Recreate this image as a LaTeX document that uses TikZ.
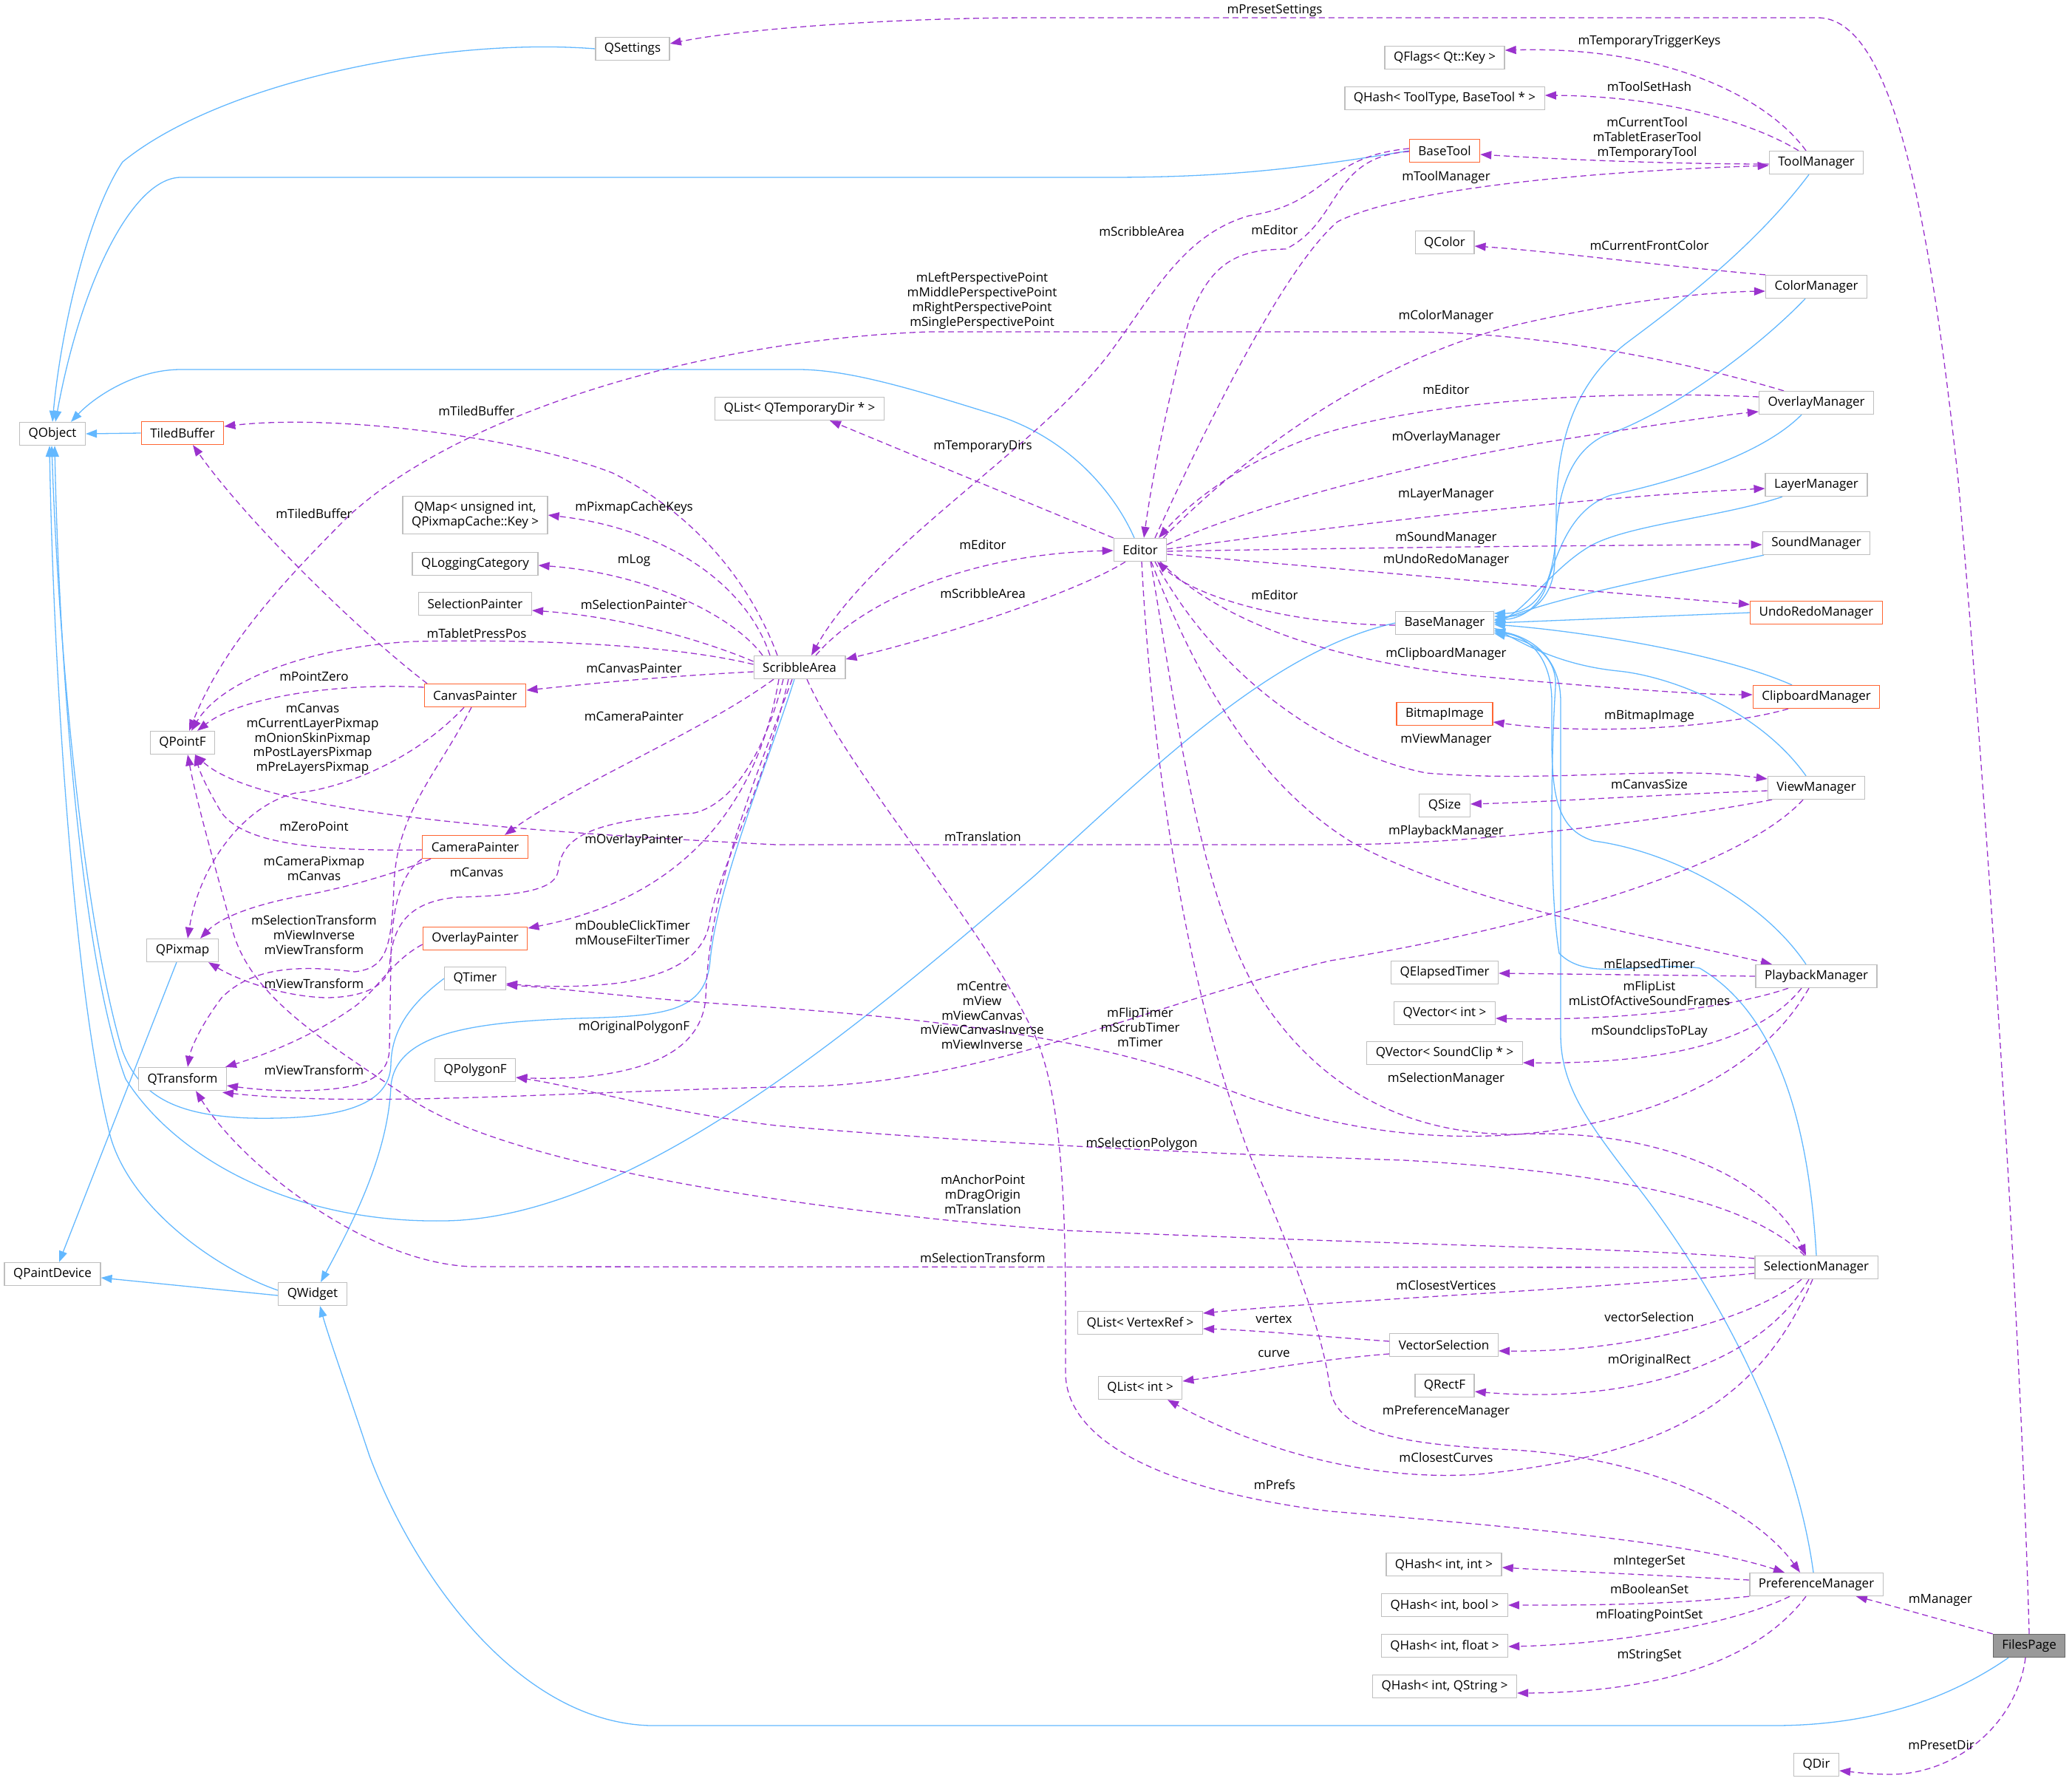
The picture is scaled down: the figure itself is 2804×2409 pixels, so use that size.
\documentclass[tikz,border=0pt]{standalone}
\usepackage{fontspec}
\setmainfont{Open Sans}
\usetikzlibrary{arrows.meta}
\definecolor{edgeblue}{HTML}{63B8FF}
\definecolor{deppurple}{HTML}{9A32CD}
\definecolor{nodegray}{HTML}{BFBFBF}
\definecolor{trunc}{HTML}{FF6633}
\definecolor{fpfill}{HTML}{999999}
\definecolor{fpdraw}{HTML}{666666}
\pgfdeclarelayer{bg}
\pgfsetlayers{bg,main}
\begin{document}
\begin{tikzpicture}[x=1pt,y=-1pt,
 cls/.style={draw=nodegray, fill=white, line width=1.3pt, minimum height=31pt, inner xsep=12pt, inner ysep=3pt, font=\fontsize{17}{20}\selectfont, align=center},
 trn/.style={cls, draw=trunc},
 cur/.style={cls, fill=fpfill, draw=fpdraw},
 inh/.style={draw=edgeblue, line width=1.3pt, -{Triangle[length=15pt,width=11pt]}},
 dep/.style={draw=deppurple, line width=1.3pt, dash pattern=on 8pt off 5pt, -{Triangle[length=15pt,width=11pt]}},
 lbl/.style={font=\fontsize{17}{19.7}\selectfont, align=center, inner sep=0pt},
]
\useasboundingbox (0,0) rectangle (2804,2409);

% ---------- nodes ----------
\node[cls] (qsettings) at (856,66) {QSettings};
\node[cls] (qobject) at (71,587) {QObject};
\node[trn] (tiled) at (247,586) {TiledBuffer};
\node[cls, minimum height=51pt] (qmap) at (643,697) {QMap< unsigned int,\\QPixmapCache::Key >};
\node[cls] (qlog) at (643,763) {QLoggingCategory};
\node[cls] (selpainter) at (643,817) {SelectionPainter};
\node[trn] (canvaspainter) at (643,941) {CanvasPainter};
\node[cls] (qpointf) at (247,1005) {QPointF};
\node[trn] (camerapainter) at (643,1146) {CameraPainter};
\node[cls] (qpixmap) at (247,1286) {QPixmap};
\node[trn] (overlaypainter) at (643,1270) {OverlayPainter};
\node[cls] (qtimer) at (643,1324) {QTimer};
\node[cls] (qtransform) at (247,1460) {QTransform};
\node[cls] (qpolygonf) at (643,1448) {QPolygonF};
\node[cls] (qpaintdevice) at (71,1724) {QPaintDevice};
\node[cls] (qwidget) at (423,1751) {QWidget};
\node[cls] (qtmpdirs) at (1082,553) {QList< QTemporaryDir * >};
\node[cls] (scribble) at (1082,903) {ScribbleArea};
\node[cls] (editor) at (1543,744) {Editor};
\node[cls] (qflags) at (1955,78) {QFlags< Qt::Key >};
\node[cls] (qhashtool) at (1955,133) {QHash< ToolType, BaseTool * >};
\node[trn] (basetool) at (1955,204) {BaseTool};
\node[cls] (qcolor) at (1955,328) {QColor};
\node[cls] (basemanager) at (1955,843) {BaseManager};
\node[trn] (bitmap) at (1955,966) {BitmapImage};
\node[cls] (qsize) at (1955,1090) {QSize};
\node[cls] (qelapsed) at (1955,1316) {QElapsedTimer};
\node[cls] (qvecint) at (1955,1371) {QVector< int >};
\node[cls] (qvecsnd) at (1955,1425) {QVector< SoundClip * >};
\node[cls] (qlistvr) at (1543,1790) {QList< VertexRef >};
\node[cls] (qlistint) at (1543,1878) {QList< int >};
\node[cls] (vecsel) at (1954,1820) {VectorSelection};
\node[cls] (qrectf) at (1955,1875) {QRectF};
\node[cls] (qhii) at (1954,2117) {QHash< int, int >};
\node[cls] (qhib) at (1955,2172) {QHash< int, bool >};
\node[cls] (qhif) at (1955,2227) {QHash< int, float >};
\node[cls] (qhis) at (1955,2282) {QHash< int, QString >};
\node[cls] (toolmgr) at (2458,220) {ToolManager};
\node[cls] (colormgr) at (2458,388) {ColorManager};
\node[cls] (overlaymgr) at (2458,545) {OverlayManager};
\node[cls] (layermgr) at (2458,656) {LayerManager};
\node[cls] (soundmgr) at (2458,735) {SoundManager};
\node[trn] (undomgr) at (2458,829) {UndoRedoManager};
\node[trn] (clipmgr) at (2458,943) {ClipboardManager};
\node[cls] (viewmgr) at (2458,1066) {ViewManager};
\node[cls] (playmgr) at (2458,1321) {PlaybackManager};
\node[cls] (selmgr) at (2458,1715) {SelectionManager};
\node[cls] (prefmgr) at (2458,2144) {PreferenceManager};
\node[cls] (qdir) at (2458,2388) {QDir};
\node[cur] (filespage) at (2746,2227) {FilesPage};

\begin{pgfonlayer}{bg}
% ---------- inheritance ----------
\draw[inh] (qsettings.west) .. controls (600,50) and (300,110) .. (166,219) .. controls (118,290) and (82,450) .. (qobject.north);
\draw[inh] (basetool.west) .. controls (1750,230) and (1650,240) .. (1500,240) -- (245,240) .. controls (180,240) and (110,380) .. ([xshift=4pt]qobject.north);
\draw[inh] ([xshift=-8pt]editor.north) .. controls (1505,660) and (1440,590) .. (1346,561) .. controls (1240,528) and (1150,500) .. (1080,500) -- (245,500) .. controls (180,500) and (125,540) .. ([xshift=25pt]qobject.north);
\draw[inh] (tiled.west) -- (qobject.east);
\draw[inh] (basemanager.west) .. controls (1720,880) and (1560,1040) .. (1400,1185) .. controls (1150,1400) and (850,1650) .. (600,1652) .. controls (400,1655) and (240,1570) .. (170,1460) .. controls (110,1300) and (80,900) .. ([xshift=3pt]qobject.south);
\draw[inh] (qtimer.west) .. controls (560,1355) and (530,1390) .. (529,1440) .. controls (528,1500) and (450,1515) .. (339,1513) .. controls (250,1510) and (190,1490) .. (165,1420) .. controls (115,1250) and (80,900) .. ([xshift=-1pt]qobject.south);
\draw[inh] ([yshift=5pt]qwidget.west) .. controls (300,1720) and (180,1640) .. (150,1540) .. controls (100,1350) and (72,900) .. ([xshift=-4pt]qobject.south);
\draw[inh] ([xshift=-7pt]scribble.south) .. controls (1040,1030) and (970,1200) .. (961,1300) .. controls (955,1370) and (900,1375) .. (781,1378) .. controls (650,1383) and (535,1395) .. (529,1470) .. controls (525,1560) and (480,1650) .. ([xshift=11pt]qwidget.north);
\draw[inh] ([yshift=-2pt]qwidget.west) -- ([yshift=-5pt]qpaintdevice.east);
\draw[inh] ([xshift=-8pt]qpixmap.south) -- ([xshift=9pt]qpaintdevice.north);
\draw[inh] ([xshift=-28pt]filespage.south) .. controls (2650,2290) and (2550,2335) .. (2400,2335) -- (880,2335) .. controls (700,2330) and (560,2130) .. (500,1970) .. controls (470,1880) and (445,1810) .. ([xshift=10pt]qwidget.south);
% managers -> BaseManager
\draw[inh] ([xshift=-10pt]toolmgr.south) .. controls (2370,340) and (2260,420) .. (2200,465) .. controls (2130,520) and (2105,600) .. (2106,700) .. controls (2107,790) and (2080,830) .. ([yshift=13pt]basemanager.east);
\draw[inh] ([xshift=-15pt]colormgr.south) .. controls (2380,470) and (2260,560) .. (2170,590) .. controls (2110,620) and (2105,700) .. (2104,760) .. controls (2103,810) and (2070,835) .. ([yshift=9pt]basemanager.east);
\draw[inh] ([xshift=-20pt]overlaymgr.south) .. controls (2380,620) and (2250,655) .. (2180,670) .. controls (2120,690) and (2105,760) .. (2090,800) .. controls (2075,830) and (2050,838) .. ([yshift=5pt]basemanager.east);
\draw[inh] ([xshift=-46pt]layermgr.south) .. controls (2330,700) and (2200,710) .. (2150,740) .. controls (2100,770) and (2060,830) .. ([yshift=3pt]basemanager.east);
\draw[inh] ([xshift=-71pt]soundmgr.south) .. controls (2250,780) and (2100,810) .. (basemanager.east);
\draw[inh] (undomgr.west) -- (basemanager.east);
\draw[inh] ([xshift=-33pt]clipmgr.north) .. controls (2330,885) and (2150,855) .. ([yshift=-2pt]basemanager.east);
\draw[inh] ([xshift=-14pt]viewmgr.north) .. controls (2380,960) and (2260,915) .. (2190,908) .. controls (2110,900) and (2060,870) .. ([yshift=-7pt]basemanager.east);
\draw[inh] ([xshift=-14pt]playmgr.north) .. controls (2380,1210) and (2250,1150) .. (2157,1138) .. controls (2095,1120) and (2100,1050) .. (2100,950) .. controls (2100,880) and (2060,860) .. ([yshift=-12pt]basemanager.east);
\draw[inh] (selmgr.north) .. controls (2450,1560) and (2420,1380) .. (2300,1310) .. controls (2220,1300) and (2150,1330) .. (2110,1290) .. controls (2095,1200) and (2100,1000) .. (2105,930) .. controls (2108,880) and (2060,865) .. ([yshift=-14pt]basemanager.east);
\draw[inh] ([xshift=-4pt]prefmgr.north) .. controls (2430,1950) and (2330,1750) .. (2209,1597) .. controls (2150,1520) and (2112,1470) .. (2112,1400) -- (2112,950) .. controls (2112,880) and (2060,860) .. ([yshift=-10pt]basemanager.east);

% ---------- usage (dashed) ----------
\draw[dep] (filespage.north) .. controls (2735,1800) and (2690,1100) .. (2650,650) .. controls (2610,280) and (2560,24) .. (2460,24) -- (1400,24) .. controls (1200,24) and (1000,40) .. ([yshift=7pt]qsettings.east);
\draw[dep] ([xshift=-14pt]toolmgr.north) .. controls (2390,130) and (2250,62) .. ([yshift=10pt]qflags.east);
\draw[dep] ([xshift=-24pt]toolmgr.north) .. controls (2370,165) and (2250,130) .. ([yshift=4pt]qhashtool.east);
\draw[dep] ([yshift=-2pt]toolmgr.west) .. controls (2250,222) and (2100,215) .. ([yshift=-5pt]basetool.east);
\draw[dep] ([xshift=20pt]editor.north) .. controls (1640,560) and (1740,360) .. (1810,300) .. controls (1900,255) and (2150,232) .. ([yshift=-4pt]toolmgr.west);
\draw[dep] ([yshift=-1pt]basetool.west) .. controls (1800,212) and (1815,300) .. (1740,337) .. controls (1680,338) and (1640,350) .. (1610,430) .. controls (1585,520) and (1560,640) .. ([xshift=5pt]editor.north);
\draw[dep] ([yshift=3pt]basetool.west) .. controls (1790,212) and (1800,275) .. (1690,292) .. controls (1600,318) and (1560,400) .. (1500,480) .. controls (1400,610) and (1180,740) .. ([xshift=16pt]scribble.north);
\draw[dep] (editor.north west) -- ([xshift=41pt]qtmpdirs.south);
\draw[dep] ([xshift=22pt]scribble.north) .. controls (1160,820) and (1300,750) .. ([yshift=-1pt]editor.west);
\draw[dep] ([xshift=-20pt]editor.south) .. controls (1460,800) and (1280,860) .. ([yshift=11pt]scribble.east);
\draw[dep] ([xshift=-5pt]editor.north east) .. controls (1680,620) and (1850,490) .. (2050,440) .. controls (2200,405) and (2320,395) .. ([yshift=-6pt]colormgr.west);
\draw[dep] ([yshift=8pt]overlaymgr.west) .. controls (2150,527) and (1920,545) .. (1780,590) .. controls (1680,625) and (1610,680) .. ([xshift=25pt]editor.north);
\draw[dep] ([yshift=7pt]editor.east) .. controls (1700,680) and (1950,620) .. (2100,597) .. controls (2250,573) and (2330,562) .. ([yshift=-12pt]overlaymgr.west);
\draw[dep] ([xshift=-44pt]overlaymgr.north) .. controls (2300,495) and (2100,449) .. (1900,449) -- (1257,449) .. controls (950,460) and (620,560) .. (470,700) .. controls (370,800) and (300,880) .. ([xshift=9pt]qpointf.north);
\draw[dep] ([yshift=1pt]editor.east) .. controls (1750,720) and (2100,675) .. ([yshift=-5pt]layermgr.west);
\draw[dep] ([yshift=-2pt]editor.east) .. controls (1800,742) and (2100,738) .. ([yshift=-2pt]soundmgr.west);
\draw[dep] ([yshift=-6pt]editor.east) .. controls (1800,768) and (2150,800) .. ([yshift=11pt]undomgr.west);
\draw[dep] ([yshift=-3pt]basemanager.west) .. controls (1750,845) and (1620,810) .. ([xshift=23pt]editor.south);
\draw[dep] ([xshift=27pt]editor.south) .. controls (1650,840) and (1800,895) .. (2000,915) .. controls (2200,933) and (2300,940) .. ([yshift=3pt]clipmgr.west);
\draw[dep] ([xshift=-38pt]clipmgr.south) .. controls (2330,985) and (2150,995) .. ([yshift=-11pt]bitmap.east);
\draw[dep] ([xshift=20pt]editor.south) .. controls (1650,920) and (1800,1020) .. (1930,1046) .. controls (2100,1060) and (2250,1035) .. ([yshift=12pt]viewmgr.west);
\draw[dep] ([yshift=-4pt]viewmgr.west) .. controls (2250,1075) and (2100,1085) .. ([yshift=2pt]qsize.east);
\draw[dep] ([xshift=-60pt]viewmgr.south) .. controls (2250,1110) and (2000,1143) .. (1800,1143) -- (1050,1143) .. controls (700,1125) and (350,1100) .. ([xshift=17pt]qpointf.south);
\draw[dep] ([xshift=15pt]editor.south) .. controls (1620,920) and (1700,1060) .. (1830,1140) .. controls (2000,1230) and (2250,1270) .. ([xshift=-60pt]playmgr.north);
\draw[dep] (playmgr.west) -- ([yshift=-1pt]qelapsed.east);
\draw[dep] ([xshift=-38pt]playmgr.south) .. controls (2340,1365) and (2180,1382) .. ([yshift=-7pt]qvecint.east);
\draw[dep] ([xshift=-20pt]playmgr.south) .. controls (2380,1410) and (2250,1440) .. ([yshift=-13pt]qvecsnd.east);
\draw[dep] ([xshift=-10pt]playmgr.south) .. controls (2400,1420) and (2300,1500) .. (2100,1530) .. controls (1950,1550) and (1800,1530) .. (1650,1470) .. controls (1500,1410) and (1300,1380) .. (1000,1360) .. controls (850,1350) and (760,1337) .. ([yshift=-9pt]qtimer.east);
\draw[dep] ([xshift=-18pt]viewmgr.south) .. controls (2350,1180) and (2050,1260) .. (1800,1300) .. controls (1550,1360) and (1350,1460) .. (1100,1470) .. controls (800,1475) and (500,1500) .. ([xshift=-6pt,yshift=-2pt]qtransform.south east);
\draw[dep] ([xshift=14pt]editor.south) .. controls (1590,950) and (1620,1200) .. (1700,1340) .. controls (1780,1470) and (1900,1535) .. (2050,1535) .. controls (2250,1525) and (2400,1600) .. ([xshift=-14pt]selmgr.north);
\draw[dep] ([xshift=-16pt]selmgr.north) .. controls (2380,1640) and (2250,1590) .. (1900,1570) .. controls (1600,1560) and (1300,1545) .. (1050,1523) .. controls (900,1505) and (780,1470) .. ([yshift=-10pt]qpolygonf.east);
\draw[dep] ([yshift=12pt]selmgr.west) .. controls (2250,1690) and (1900,1685) .. (1442,1665) .. controls (1100,1640) and (700,1580) .. (560,1490) .. controls (440,1410) and (340,1350) .. (315,1260) .. controls (290,1170) and (265,1080) .. ([xshift=7pt]qpointf.south);
\draw[dep] (selmgr.west) -- (640,1714) .. controls (500,1710) and (330,1580) .. ([xshift=18pt]qtransform.south);
\draw[dep] ([yshift=-8pt]selmgr.west) .. controls (2150,1745) and (1800,1760) .. ([yshift=13pt]qlistvr.east);
\draw[dep] ([xshift=-20pt]selmgr.south) .. controls (2380,1780) and (2220,1830) .. ([yshift=-8pt]vecsel.east);
\draw[dep] ([xshift=-10pt]selmgr.south) .. controls (2380,1850) and (2200,1900) .. ([yshift=-8pt]qrectf.east);
\draw[dep] ([xshift=-5pt]selmgr.south) .. controls (2380,1900) and (2250,1970) .. (2000,1995) .. controls (1850,2005) and (1700,1960) .. ([xshift=37pt]qlistint.south);
\draw[dep] ([yshift=5pt]vecsel.west) .. controls (1780,1808) and (1700,1800) .. ([yshift=-8pt]qlistvr.east);
\draw[dep] ([yshift=-12pt]vecsel.west) .. controls (1780,1840) and (1700,1855) .. ([yshift=9pt]qlistint.east);
\draw[dep] ([xshift=2pt]editor.south) .. controls (1560,1050) and (1610,1350) .. (1690,1560) .. controls (1750,1700) and (1790,1800) .. (1800,1880) .. controls (1810,1940) and (1900,1955) .. (2050,1962) .. controls (2250,1975) and (2380,2050) .. ([xshift=-22pt]prefmgr.north);
\draw[dep] ([xshift=10pt]scribble.south) .. controls (1150,1050) and (1330,1250) .. (1400,1400) .. controls (1445,1500) and (1442,1700) .. (1442,1860) .. controls (1445,1960) and (1600,2020) .. (1800,2045) .. controls (2100,2070) and (2300,2090) .. ([xshift=-43pt]prefmgr.north);
\draw[dep] ([yshift=6pt]prefmgr.west) .. controls (2250,2132) and (2100,2125) .. ([yshift=-4pt]qhii.east);
\draw[dep] (prefmgr.south west) .. controls (2250,2172) and (2150,2172) .. (qhib.east);
\draw[dep] ([xshift=-36pt]prefmgr.south) .. controls (2340,2200) and (2180,2225) .. ([yshift=-1pt]qhif.east);
\draw[dep] ([xshift=-14pt]prefmgr.south) .. controls (2380,2245) and (2250,2290) .. ([yshift=-9pt]qhis.east);
\draw[dep] (filespage.north west) .. controls (2620,2190) and (2550,2170) .. ([xshift=-37pt]prefmgr.south east);
\draw[dep] ([xshift=-5pt]filespage.south) .. controls (2730,2330) and (2650,2400) .. (2560,2401) .. controls (2530,2401) and (2510,2398) .. ([yshift=-8pt]qdir.east);
\draw[dep] (colormgr.north west) .. controls (2250,360) and (2100,340) .. ([yshift=-5pt]qcolor.east);
% ScribbleArea members
\draw[dep] ([xshift=-30pt]scribble.north) .. controls (1020,800) and (950,700) .. (829,640) .. controls (700,590) and (450,560) .. ([yshift=9pt]tiled.east);
\draw[dep] ([xshift=-40pt]scribble.north) .. controls (1010,790) and (900,715) .. (qmap.east);
\draw[dep] ([xshift=-50pt]scribble.north) .. controls (990,830) and (870,775) .. ([yshift=-2pt]qlog.east);
\draw[dep] ([yshift=8pt]scribble.west) .. controls (960,870) and (850,835) .. ([yshift=-9pt]selpainter.east);
\draw[dep] ([yshift=4pt]scribble.west) .. controls (900,870) and (700,865) .. (560,868) .. controls (420,875) and (300,920) .. ([xshift=12pt]qpointf.north);
\draw[dep] ([yshift=-6pt]scribble.west) .. controls (900,915) and (800,925) .. ([yshift=7pt]canvaspainter.east);
\draw[dep] ([xshift=-35pt]scribble.south) .. controls (950,990) and (780,1060) .. ([xshift=40pt]camerapainter.north);
\draw[dep] ([xshift=-28pt]scribble.south) .. controls (1030,1060) and (950,1210) .. ([yshift=14pt]overlaypainter.east);
\draw[dep] ([xshift=-22pt]scribble.south) .. controls (1040,1000) and (1000,1085) .. (940,1100) .. controls (800,1112) and (760,1130) .. (755,1180) .. controls (750,1205) and (700,1212) .. (620,1214) .. controls (545,1220) and (530,1260) .. (527,1310) .. controls (520,1340) and (480,1350) .. (440,1350) .. controls (380,1348) and (320,1325) .. ([xshift=35pt]qpixmap.south);
\draw[dep] ([xshift=-15pt]scribble.south) .. controls (1030,1080) and (970,1180) .. (960,1250) .. controls (950,1300) and (900,1320) .. (839,1330) .. controls (780,1337) and (730,1335) .. ([yshift=-7pt]qtimer.east);
\draw[dep] ([xshift=-10pt]scribble.south) .. controls (1020,1060) and (960,1200) .. (955,1350) .. controls (950,1420) and (880,1450) .. (780,1458) .. controls (740,1460) and (720,1459) .. ([yshift=-10pt]qpolygonf.east);
% Painters
\draw[dep] ([yshift=11pt]canvaspainter.west) .. controls (470,924) and (330,940) .. ([xshift=20pt]qpointf.north);
\draw[dep] ([xshift=-65pt]canvaspainter.north) .. controls (480,850) and (330,700) .. ([xshift=14pt]tiled.south);
\draw[dep] ([xshift=-15pt]canvaspainter.south) .. controls (560,1030) and (460,1068) .. (400,1073) .. controls (330,1090) and (270,1170) .. ([xshift=7pt]qpixmap.north);
\draw[dep] ([xshift=-5pt]canvaspainter.south) .. controls (590,1050) and (536,1100) .. (533,1200) .. controls (530,1290) and (520,1310) .. (480,1315) .. controls (400,1305) and (340,1310) .. (300,1350) .. controls (270,1390) and (258,1420) .. ([xshift=7pt]qtransform.north);
\draw[dep] ([yshift=-4pt]camerapainter.west) .. controls (420,1152) and (330,1140) .. (300,1100) .. controls (285,1075) and (272,1050) .. ([xshift=17pt]qpointf.south);
\draw[dep] ([xshift=-60pt]camerapainter.south) .. controls (540,1180) and (480,1198) .. (420,1210) .. controls (350,1222) and (300,1240) .. ([xshift=24pt]qpixmap.north);
\draw[dep] (camerapainter.south west) .. controls (545,1180) and (530,1220) .. (529,1300) -- (527,1420) .. controls (525,1465) and (480,1475) .. (400,1476) .. controls (360,1476) and (330,1472) .. ([yshift=-9pt]qtransform.east);
\draw[dep] ([yshift=-8pt]overlaypainter.west) .. controls (530,1300) and (510,1340) .. (480,1362) .. controls (420,1405) and (350,1430) .. ([xshift=-2pt]qtransform.north east);
\end{pgfonlayer}

% ---------- labels ----------
\node[lbl] (l01) at (1725,14) {mPresetSettings};
\node[lbl] (l02) at (2232,56) {mTemporaryTriggerKeys};
\node[lbl] (l03) at (2232,117) {mToolSetHash};
\node[lbl] (l04) at (2229,187) {mCurrentTool\\mTabletEraserTool\\mTemporaryTool};
\node[lbl] (l05) at (1957,240) {mToolManager};
\node[lbl] (l06) at (1545,313) {mScribbleArea};
\node[lbl] (l07) at (1725,311) {mEditor};
\node[lbl] (l08) at (2232,332) {mCurrentFrontColor};
\node[lbl] (l09) at (1329,407) {mLeftPerspectivePoint\\mMiddlePerspectivePoint\\mRightPerspectivePoint\\mSinglePerspectivePoint};
\node[lbl] (l10) at (1957,428) {mColorManager};
\node[lbl] (l11) at (1957,527) {mEditor};
\node[lbl] (l12) at (645,556) {mTiledBuffer};
\node[lbl] (l13) at (1957,592) {mOverlayManager};
\node[lbl] (l14) at (1330,604) {mTemporaryDirs};
\node[lbl] (l15) at (1957,669) {mLayerManager};
\node[lbl] (l16) at (858,687) {mPixmapCacheKeys};
\node[lbl] (l17) at (425,695) {mTiledBuffer};
\node[lbl] (l18) at (1957,728) {mSoundManager};
\node[lbl] (l19) at (1330,737) {mEditor};
\node[lbl] (l20) at (1957,758) {mUndoRedoManager};
\node[lbl] (l21) at (858,758) {mLog};
\node[lbl] (l22) at (1330,803) {mScribbleArea};
\node[lbl] (l23) at (1725,805) {mEditor};
\node[lbl] (l24) at (858,818) {mSelectionPainter};
\node[lbl] (l25) at (645,857) {mTabletPressPos};
\node[lbl] (l26) at (1957,885) {mClipboardManager};
\node[lbl] (l27) at (858,904) {mCanvasPainter};
\node[lbl] (l28) at (425,915) {mPointZero};
\node[lbl] (l29) at (423,1000) {mCanvas\\mCurrentLayerPixmap\\mOnionSkinPixmap\\mPostLayersPixmap\\mPreLayersPixmap};
\node[lbl] (l30) at (858,969) {mCameraPainter};
\node[lbl] (l31) at (2232,969) {mBitmapImage};
\node[lbl] (l32) at (1957,1001) {mViewManager};
\node[lbl] (l33) at (2232,1061) {mCanvasSize};
\node[lbl] (l34) at (425,1118) {mZeroPoint};
\node[lbl] (l35) at (1957,1125) {mPlaybackManager};
\node[lbl] (l36) at (1330,1132) {mTranslation};
\node[lbl] (l37) at (858,1137) {mOverlayPainter};
\node[lbl] (l38) at (425,1175) {mCameraPixmap\\mCanvas};
\node[lbl] (l39) at (645,1180) {mCanvas};
\node[lbl] (l40) at (425,1265) {mSelectionTransform\\mViewInverse\\mViewTransform};
\node[lbl] (l41) at (856,1262) {mDoubleClickTimer\\mMouseFilterTimer};
\node[lbl] (l42) at (2232,1306) {mElapsedTimer};
\node[lbl] (l43) at (425,1331) {mViewTransform};
\node[lbl] (l44) at (2232,1344) {mFlipList\\mListOfActiveSoundFrames};
\node[lbl] (l45) at (1329,1374) {mCentre\\mView\\mViewCanvas\\mViewCanvasInverse\\mViewInverse};
\node[lbl] (l46) at (1543,1390) {mFlipTimer\\mScrubTimer\\mTimer};
\node[lbl] (l47) at (858,1390) {mOriginalPolygonF};
\node[lbl] (l48) at (2232,1396) {mSoundclipsToPLay};
\node[lbl] (l49) at (425,1448) {mViewTransform};
\node[lbl] (l50) at (1957,1460) {mSelectionManager};
\node[lbl] (l51) at (1545,1548) {mSelectionPolygon};
\node[lbl] (l52) at (1330,1616) {mAnchorPoint\\mDragOrigin\\mTranslation};
\node[lbl] (l53) at (1330,1702) {mSelectionTransform};
\node[lbl] (l54) at (1957,1739) {mClosestVertices};
\node[lbl] (l55) at (2232,1782) {vectorSelection};
\node[lbl] (l56) at (1724,1785) {vertex};
\node[lbl] (l57) at (1724,1832) {curve};
\node[lbl] (l58) at (2232,1841) {mOriginalRect};
\node[lbl] (l59) at (1957,1910) {mPreferenceManager};
\node[lbl] (l60) at (1957,1972) {mClosestCurves};
\node[lbl] (l61) at (1725,2009) {mPrefs};
\node[lbl] (l62) at (2232,2113) {mIntegerSet};
\node[lbl] (l63) at (2232,2150) {mBooleanSet};
\node[lbl] (l64) at (2626,2165) {mManager};
\node[lbl] (l65) at (2232,2186) {mFloatingPointSet};
\node[lbl] (l66) at (2232,2240) {mStringSet};
\node[lbl] (l67) at (2627,2361) {mPresetDir};
\end{tikzpicture}
\end{document}
